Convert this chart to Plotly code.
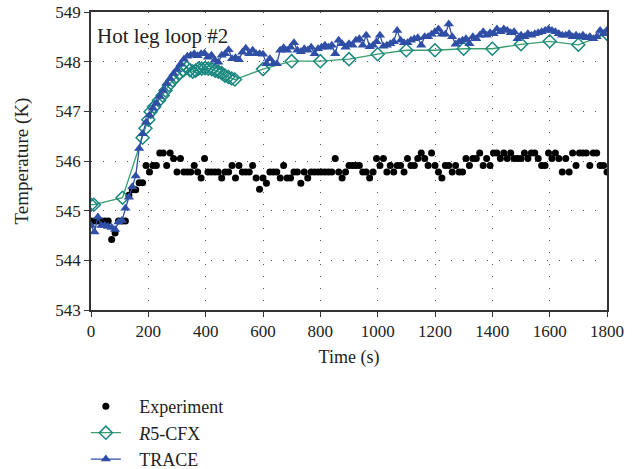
import plotly.graph_objects as go

# ---------------- data ----------------
exp_step = 12  # s, sampling interval of experimental record
exp_temp = [
    544.79, 544.79, 544.79, 544.79, 544.79, 544.79, 544.42, 544.55, 544.79, 544.79,
    544.79, 545.31, 545.42, 545.42, 545.56, 545.56, 545.91, 545.78, 545.91, 545.91,
    546.16, 546.16, 545.91, 546.16, 546.05, 545.78, 546.05, 545.78, 545.78, 545.78,
    545.91, 545.78, 545.66, 546.05, 545.78, 545.78, 545.78, 545.78, 545.66, 545.78,
    545.78, 545.91, 545.66, 545.91, 545.78, 545.78, 545.78, 545.91, 545.66, 545.43,
    545.66, 545.55, 545.78, 545.78, 545.78, 545.66, 545.91, 545.66, 545.66, 545.78,
    545.78, 545.55, 545.78, 545.66, 545.78, 545.78, 545.78, 545.78, 545.78, 545.78,
    545.78, 546.05, 545.78, 545.66, 545.78, 545.91, 545.91, 545.91, 545.91, 545.78,
    545.78, 545.66, 545.78, 546.05, 545.91, 546.05, 545.78, 545.91, 545.78, 545.91,
    545.91, 545.78, 546.05, 545.91, 545.91, 546.05, 546.16, 546.05, 545.91, 546.16,
    545.91, 545.78, 545.66, 545.91, 545.91, 545.78, 545.91, 545.78, 545.78, 546.05,
    545.91, 546.05, 546.05, 546.16, 545.91, 546.05, 545.91, 546.16, 546.16, 546.05,
    546.16, 546.05, 546.16, 546.05, 546.05, 546.05, 546.16, 546.05, 546.16, 546.16,
    546.05, 545.91, 545.91, 546.16, 546.05, 546.16, 546.05, 545.78, 546.05, 545.78,
    546.16, 545.91, 546.16, 546.16, 546.16, 545.91, 546.16, 546.16, 545.91, 545.91,
    545.78,
]
exp_time = [exp_step * i for i in range(len(exp_temp))]

r5_time = [0, 10, 110, 180, 190, 200, 208, 220, 237, 250, 260, 272, 285, 297, 310,
           322, 334, 345, 355, 365, 375, 386, 398, 409, 421, 433, 444, 456, 467,
           479, 491, 502, 600, 700, 800, 900, 1000, 1100, 1200, 1300, 1400, 1500,
           1600, 1700, 1800]
r5_temp = [545.12, 545.12, 545.26, 546.47, 546.66, 546.83, 546.99, 547.09, 547.22,
           547.32, 547.42, 547.53, 547.62, 547.70, 547.77, 547.83, 547.88, 547.83,
           547.80, 547.82, 547.86, 547.86, 547.87, 547.86, 547.85, 547.82, 547.80,
           547.77, 547.72, 547.69, 547.66, 547.64, 547.85, 548.01, 548.01, 548.05,
           548.15, 548.23, 548.23, 548.26, 548.26, 548.35, 548.41, 548.34, 548.56]

trace_step = 12
trace_temp = [
    544.70, 544.57, 544.87, 544.70, 544.70, 544.68, 544.66, 544.62, 544.77, 544.80,
    545.05, 545.27, 545.48, 545.70, 546.25, 546.55, 546.78, 546.92, 547.06, 547.17,
    547.30, 547.42, 547.56, 547.66, 547.76, 547.84, 547.95, 548.05, 548.11, 548.13,
    548.16, 548.12, 548.16, 548.17, 548.09, 548.13, 548.03, 547.99, 548.13, 548.16,
    548.24, 548.06, 548.08, 548.04, 548.19, 548.27, 548.16, 548.23, 548.16, 548.16,
    548.15, 547.96, 548.06, 547.96, 547.96, 548.23, 548.28, 548.23, 548.29, 548.38,
    548.23, 548.20, 548.26, 548.23, 548.29, 548.16, 548.26, 548.29, 548.33, 548.29,
    548.33, 548.16, 548.43, 548.36, 548.29, 548.36, 548.33, 548.43, 548.46, 548.33,
    548.53, 548.30, 548.33, 548.40, 548.53, 548.31, 548.33, 548.36, 548.40, 548.63,
    548.43, 548.38, 548.38, 548.43, 548.46, 548.48, 548.33, 548.50, 548.50, 548.55,
    548.60, 548.66, 548.55, 548.55, 548.76, 548.50, 548.35, 548.40, 548.43, 548.46,
    548.36, 548.50, 548.46, 548.53, 548.60, 548.53, 548.58, 548.56, 548.66, 548.60,
    548.66, 548.63, 548.58, 548.60, 548.46, 548.53, 548.50, 548.56, 548.53, 548.56,
    548.58, 548.60, 548.63, 548.66, 548.63, 548.60, 548.56, 548.53, 548.53, 548.56,
    548.50, 548.53, 548.50, 548.53, 548.48, 548.50, 548.46, 548.50, 548.63, 548.56,
    548.63,
]
trace_time = [trace_step * i for i in range(len(trace_temp))]

x_ticks = [0, 200, 400, 600, 800, 1000, 1200, 1400, 1600, 1800]
y_ticks = [543, 544, 545, 546, 547, 548, 549]

FONT = "Liberation Serif"
BLUE = "#2f4ea6"
GREEN = "#3a9e6e"
TEAL = "#17877f"
PAD = "\u00a0\u00a0\u00a0"

fig = go.Figure()

fig.add_trace(go.Scatter(
    x=exp_time, y=exp_temp, mode="markers", name=PAD + "Experiment",
    marker=dict(symbol="circle", size=7, color="black"),
))
fig.add_trace(go.Scatter(
    x=r5_time, y=r5_temp, mode="lines+markers", name=PAD + "<i>R</i>5-CFX",
    line=dict(color=GREEN, width=1.3),
    marker=dict(symbol="diamond-open", size=10, color=TEAL, line=dict(width=1.5, color=TEAL)),
))
fig.add_trace(go.Scatter(
    x=trace_time, y=trace_temp, mode="lines+markers", name=PAD + "TRACE",
    line=dict(color=BLUE, width=1.3),
    marker=dict(symbol="triangle-up", size=9, color=BLUE),
))

grid_common = dict(
    showgrid=True, gridcolor="#555555", gridwidth=1, griddash="1px,11px",
    showline=True, linecolor="#333333", linewidth=1.5, mirror=True,
    ticks="outside", ticklen=5, tickcolor="#333333", tickwidth=1.2,
    zeroline=False, tickfont=dict(family=FONT, size=17, color="#222"),
)

fig.update_xaxes(
    range=[0, 1800], tickvals=x_ticks, ticktext=[str(v) for v in x_ticks],
    title=dict(text="Time (s)", font=dict(family=FONT, size=18, color="#222"), standoff=10),
    **grid_common,
)
fig.update_yaxes(
    range=[543, 549], tickvals=y_ticks, ticktext=[str(v) for v in y_ticks],
    title=dict(text="Temperature (K)", font=dict(family=FONT, size=19, color="#222"), standoff=22),
    **grid_common,
)

fig.add_annotation(
    text="Hot leg loop #2", xref="paper", yref="paper", x=0.008, y=0.965,
    xanchor="left", yanchor="top", showarrow=False,
    font=dict(family=FONT, size=21, color="#222"),
)

fig.update_layout(
    width=640, height=469,
    margin=dict(l=91, r=33, t=12, b=159, autoexpand=False),
    paper_bgcolor="white", plot_bgcolor="white",
    font=dict(family=FONT, size=18, color="#222"),
    showlegend=True,
    legend=dict(
        x=-0.01, y=-0.262, xanchor="left", yanchor="top",
        orientation="v", tracegroupgap=0,
        font=dict(family=FONT, size=18, color="#222"),
        bgcolor="rgba(0,0,0,0)",
    ),
)

fig.write_html("out.html", config={"displayModeBar": False},
               post_script="document.body.style.margin='0px';")
